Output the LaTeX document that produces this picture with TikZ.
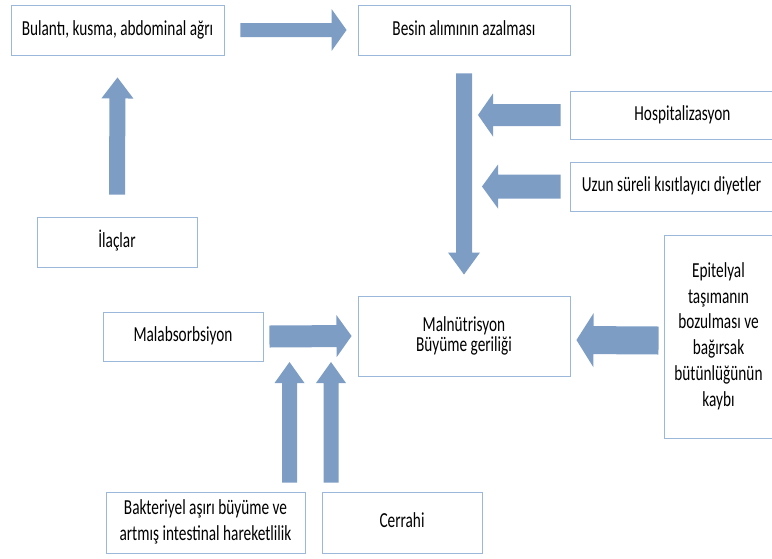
\documentclass[tikz,border=0pt]{standalone}
\usepackage{fontspec}
\setmainfont{Carlito}
\usepackage{graphicx}
\usepackage{tikz}
\usetikzlibrary{calc}
\usepackage{xcolor}
\definecolor{boxline}{RGB}{155,183,217}
\definecolor{arrowfill}{RGB}{125,157,197}
\newcommand{\tallt}[1]{\scalebox{1}[1.4]{\begin{tabular}{@{}c@{}}#1\end{tabular}}}

\begin{document}
\begin{tikzpicture}[x=1pt, y=1pt,
    box/.style={draw=boxline, line width=0.9pt, fill=white, inner sep=0pt,
      align=center, font=\fontsize{15.3}{18.4}\selectfont},
    % half body width, half head width, head length
    blockar/.style n args={3}{fill=arrowfill, to path={
      let \p1=(\tikztostart), \p2=(\tikztotarget), \p3=($(\p2)!#3!(\p1)$) in
      ($(\p1)!#1!90:(\p2)$) -- ($(\p3)!#1!90:(\p2)$) -- ($(\p3)!#2!90:(\p2)$)
      -- (\p2) -- ($(\p3)!#2!-90:(\p2)$) -- ($(\p3)!#1!-90:(\p2)$)
      -- ($(\p1)!#1!-90:(\p2)$) -- cycle}},
  ]
  \useasboundingbox (0,0) rectangle (772,-558);

  \node[box, minimum width=213pt, minimum height=50pt] (bul) at (117.5,-30) {\tallt{Bulantı, kusma, abdominal ağrı}};
  \node[box, minimum width=212pt, minimum height=50pt] (besin) at (464,-30) {\tallt{Besin alımının azalması}};
  \node[box, minimum width=160pt, minimum height=50pt] (ilac) at (117,-242) {\tallt{İlaçlar}};
  \node[box, minimum width=225pt, minimum height=48pt] (hosp) at (682.5,-115) {\tallt{Hospitalizasyon}};
  \node[box, minimum width=203pt, minimum height=49pt] (uzun) at (671.5,-186.5) {\tallt{Uzun süreli kısıtlayıcı diyetler}};
  \node[box, minimum width=212pt, minimum height=80pt] (maln) at (464,-336) {\tallt{Malnütrisyon\\[-4.1pt]Büyüme geriliği}};
  \node[box, minimum width=109pt, minimum height=203pt] (epit) at (718.5,-336.5) {\tallt{Epitelyal\\taşımanın\\bozulması ve\\bağırsak\\bütünlüğünün\\kaybı}};
  \node[box, minimum width=160pt, minimum height=49pt] (malab) at (183,-336.5) {\tallt{Malabsorbsiyon}};
  \node[box, minimum width=199pt, minimum height=61pt] (bakt) at (205.5,-522.5) {\tallt{Bakteriyel aşırı büyüme ve\\artmış intestinal hareketlilik}};
  \node[box, minimum width=160pt, minimum height=61pt] (cerr) at (402,-522.5) {\tallt{Cerrahi}};

  % free ends of the side arrows
  \coordinate (hospend) at (478,-115);
  \coordinate (uzunend) at (482,-186.5);
  \coordinate (bakthead) at (289.5,-362);
  \coordinate (cerrhead) at (331,-362);

  \path[blockar={7pt}{21pt}{15pt}] ([xshift=16pt]bul.east) to ([xshift=-11pt]besin.west);
  \path[blockar={8pt}{16pt}{21pt}] ([yshift=22pt]ilac.north) to ([yshift=-22pt]bul.south);
  \path[blockar={8pt}{16pt}{22pt}] ([yshift=-18pt]besin.south) to ([yshift=21pt]maln.north);
  \path[blockar={11pt}{21.5pt}{15pt}] ([xshift=-9pt]hosp.west) to (hospend);
  \path[blockar={12pt}{22pt}{16pt}] ([xshift=-9pt]uzun.west) to (uzunend);
  \path[blockar={14pt}{27pt}{17pt}] ([xshift=-5pt,yshift=-4pt]epit.west) to ([xshift=6pt,yshift=-4pt]maln.east);
  \path[blockar={11pt}{21pt}{15pt}] ([xshift=6pt]malab.east) to ([xshift=-6pt]maln.west);
  \path[blockar={7.5pt}{15pt}{21pt}] ($(bakt.north)+(84,9)$) to (bakthead);
  \path[blockar={7.5pt}{15pt}{21pt}] ($(cerr.north)+(-71,9)$) to (cerrhead);

\end{tikzpicture}
\end{document}
